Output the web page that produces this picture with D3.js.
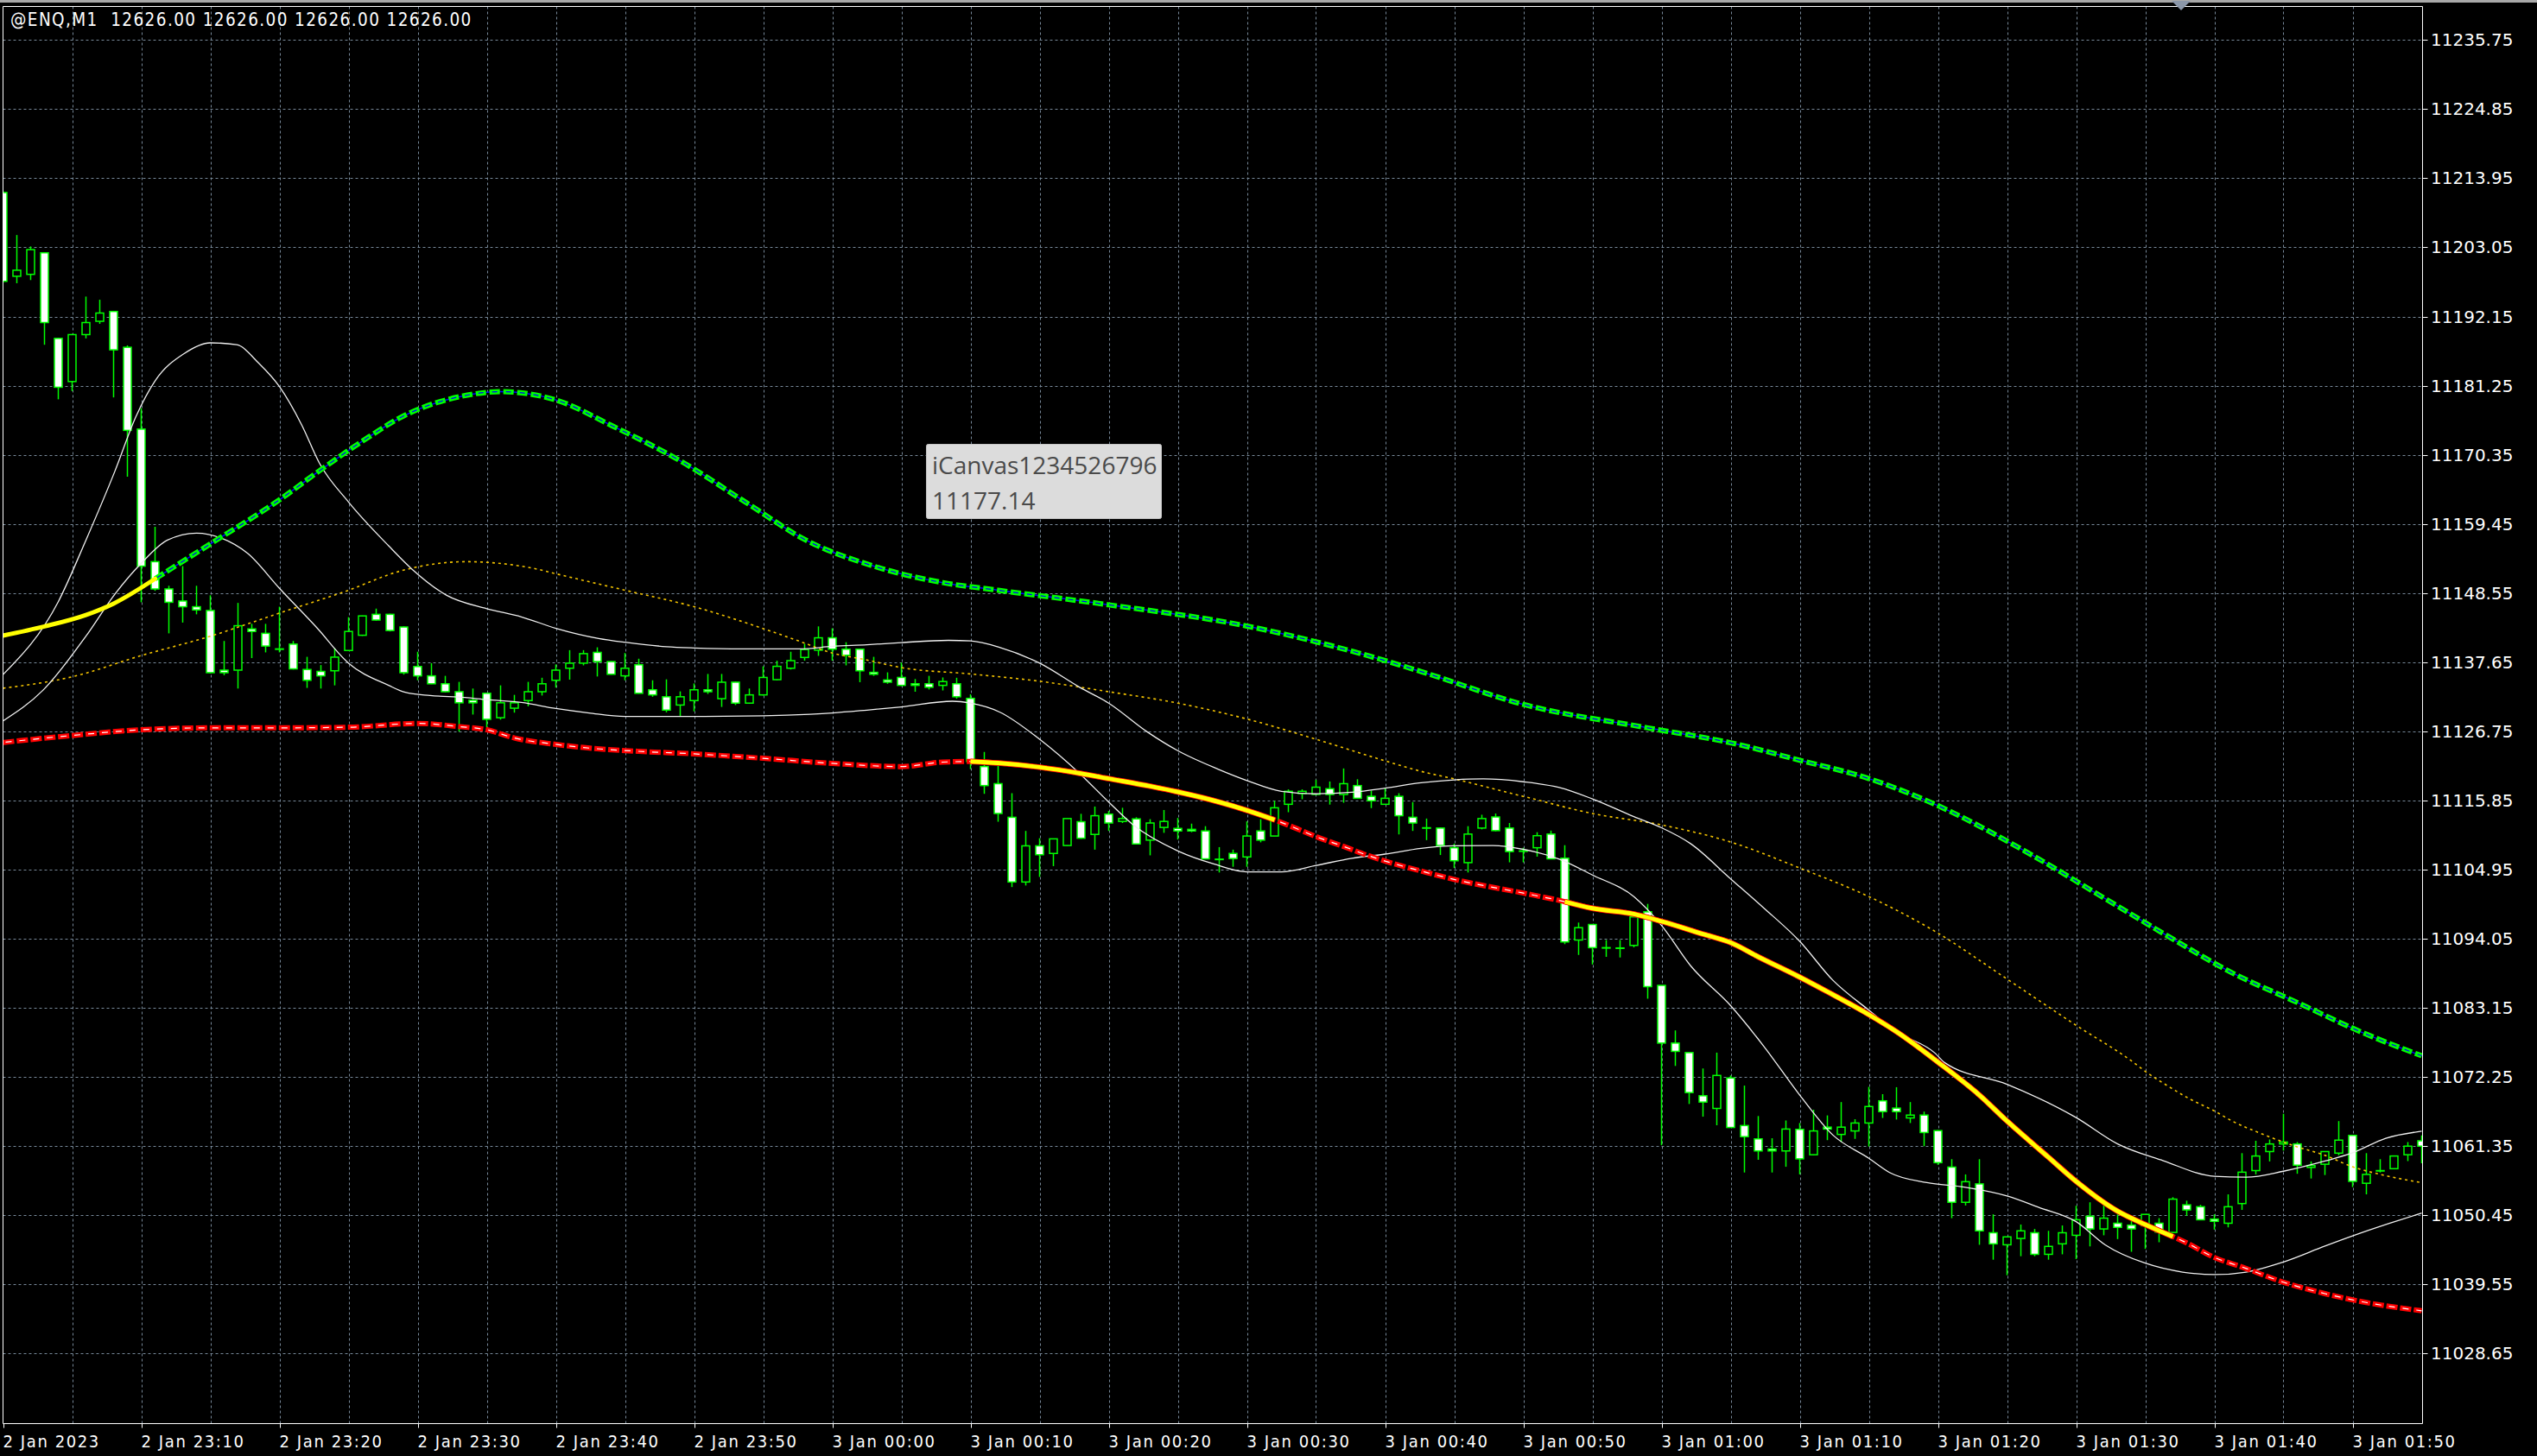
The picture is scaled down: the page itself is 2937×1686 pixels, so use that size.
<!DOCTYPE html>
<html><head><meta charset="utf-8">
<script src="https://cdn.jsdelivr.net/npm/d3@7"></script>
<style>
html,body{margin:0;padding:0;background:#000;overflow:hidden}
svg{display:block}
</style></head><body>
<svg id="chart" width="2937" height="1686"></svg>
<script>
// ---------------- DATA ----------------
const symbolHeader = "@ENQ,M1  12626.00 12626.00 12626.00 12626.00";
const tooltipLines = ["iCanvas1234526796", "11177.14"];
// candle index = minutes after 2 Jan 23:00
const timeTickIndex = [0,10,20,30,40,50,60,70,80,90,100,110,120,130,140,150,160,170];
const timeTickLabels = ["2 Jan 2023","2 Jan 23:10","2 Jan 23:20","2 Jan 23:30","2 Jan 23:40","2 Jan 23:50","3 Jan 00:00","3 Jan 00:10","3 Jan 00:20","3 Jan 00:30","3 Jan 00:40","3 Jan 00:50","3 Jan 01:00","3 Jan 01:10","3 Jan 01:20","3 Jan 01:30","3 Jan 01:40","3 Jan 01:50"];
const priceTicks = [11235.75,11224.85,11213.95,11203.05,11192.15,11181.25,11170.35,11159.45,11148.55,11137.65,11126.75,11115.85,11104.95,11094.05,11083.15,11072.25,11061.35,11050.45,11039.55,11028.65];

const opens = [11211.7,11198.5,11198.8,11202.2,11188.7,11181.9,11189.3,11191.4,11192.95,11187.3,
11174.4,11153.5,11149.2,11147.3,11146.4,11145.8,11136.4,11136.4,11142.9,11142.2,
11139.75,11140.5,11136.5,11136.2,11136.3,11139.5,11141.9,11145.2,11145.2,11143.2,
11136.97,11135.5,11134.25,11133.0,11131.65,11132.75,11128.9,11130.4,11131.6,11133.0,
11134.8,11136.7,11137.5,11139.2,11137.75,11135.5,11137.25,11133.3,11132.2,11130.9,
11131.6,11133.3,11131.9,11134.5,11131.2,11132.5,11134.9,11136.7,11138.4,11139.55,
11141.5,11139.7,11139.7,11136.05,11134.85,11135.25,11134.25,11134.25,11134.0,11134.25,
11131.95,11121.2,11118.5,11113.2,11103.0,11108.7,11107.5,11108.75,11112.5,11110.5,
11113.7,11112.55,11112.95,11109.6,11111.6,11111.45,11111.3,11111.05,11106.6,11107.5,
11106.95,11111.05,11110.25,11115.25,11116.95,11116.8,11117.7,11116.8,11118.2,11116.5,
11115.25,11116.5,11113.2,11111.55,11111.5,11108.4,11106.05,11111.5,11113.25,11111.5,
11107.9,11108.4,11110.55,11106.75,11093.85,11096.3,11092.65,11092.6,11093.0,11098.3,
11086.7,11077.6,11076.1,11069.3,11067.3,11072.1,11064.6,11062.5,11060.9,11060.6,
11064.0,11060.0,11064.35,11063.2,11063.75,11065.0,11068.5,11067.35,11065.8,11066.25,
11063.8,11058.05,11052.5,11055.4,11047.7,11045.8,11046.8,11047.7,11044.3,11045.95,
11047.3,11050.3,11048.3,11049.2,11048.9,11048.8,11049.2,11047.75,11052.1,11051.8,
11049.85,11049.2,11052.3,11057.5,11060.5,11061.7,11061.7,11058.0,11058.5,11060.25,
11063.05,11055.5,11057.5,11057.8,11060.0,11062.2];
const highs = [11211.9,11205.0,11203.2,11202.3,11188.8,11189.4,11195.3,11194.8,11193.0,11187.6,
11177.7,11159.0,11149.7,11152.8,11149.7,11148.2,11141.0,11147.0,11143.7,11143.7,
11146.4,11141.0,11138.5,11137.2,11139.85,11144.75,11145.0,11146.1,11145.3,11143.3,
11139.3,11137.5,11135.5,11134.55,11133.5,11132.8,11134.0,11132.5,11134.55,11135.2,
11137.3,11139.55,11139.55,11140.0,11137.8,11139.1,11138.2,11134.8,11134.95,11133.05,
11134.3,11135.8,11135.8,11134.6,11133.5,11137.0,11137.9,11139.3,11140.55,11143.3,
11143.0,11140.8,11139.8,11138.5,11136.05,11137.6,11135.0,11135.5,11135.25,11135.2,
11132.6,11123.5,11121.4,11117.0,11111.05,11109.9,11109.8,11113.0,11113.75,11114.9,
11114.2,11114.7,11113.2,11112.9,11114.35,11113.1,11112.2,11111.8,11108.5,11108.1,
11112.55,11112.9,11115.8,11117.6,11117.6,11119.1,11118.85,11120.9,11119.2,11117.4,
11117.75,11117.0,11115.6,11113.0,11111.6,11109.05,11111.8,11113.6,11113.8,11112.3,
11108.4,11110.85,11111.1,11108.8,11096.6,11096.3,11093.85,11093.85,11097.5,11099.55,
11086.7,11079.6,11076.1,11073.6,11076.1,11072.5,11070.9,11066.1,11062.6,11065.4,
11065.0,11067.1,11066.2,11068.3,11065.6,11070.7,11069.55,11070.65,11068.3,11066.8,
11063.9,11059.3,11056.9,11059.3,11050.6,11047.1,11049.0,11048.3,11048.0,11048.85,
11051.95,11052.5,11052.2,11050.6,11050.35,11050.6,11050.0,11053.3,11052.75,11052.1,
11050.6,11053.75,11060.25,11062.2,11062.4,11066.45,11062.0,11058.95,11060.5,11065.3,
11063.1,11060.25,11059.3,11059.8,11062.0,11063.05];
const lows = [11197.5,11197.4,11197.9,11187.7,11179.1,11180.4,11188.7,11191.0,11179.4,11166.9,
11147.1,11148.9,11142.2,11143.9,11145.2,11135.9,11135.6,11133.5,11138.3,11139.2,
11139.2,11136.5,11133.6,11133.5,11134.0,11139.4,11141.8,11144.2,11142.5,11135.7,
11134.8,11134.2,11132.9,11126.7,11129.4,11127.4,11128.6,11129.7,11130.7,11132.4,
11133.65,11134.9,11137.15,11135.4,11135.7,11134.8,11132.7,11132.2,11129.75,11129.1,
11129.9,11132.65,11130.6,11130.9,11131.1,11132.4,11134.8,11136.5,11137.9,11138.65,
11137.9,11137.15,11134.5,11135.5,11134.25,11133.9,11133.0,11133.35,11133.2,11131.9,
11120.8,11116.9,11112.5,11102.2,11102.45,11103.8,11105.5,11108.7,11109.8,11108.1,
11111.05,11112.3,11108.9,11107.2,11110.75,11109.7,11110.85,11106.6,11104.5,11105.4,
11105.4,11109.25,11110.25,11114.0,11116.05,11116.8,11115.2,11115.5,11116.1,11114.65,
11115.25,11110.5,11111.05,11109.6,11107.25,11105.2,11104.5,11111.3,11111.0,11106.1,
11106.1,11107.0,11106.6,11093.2,11091.5,11090.0,11091.2,11091.1,11092.7,11084.6,
11061.5,11074.0,11068.0,11066.0,11064.65,11064.3,11057.2,11059.2,11057.2,11058.1,
11056.9,11059.9,11062.3,11062.0,11062.5,11061.3,11065.8,11065.55,11065.0,11061.35,
11058.4,11050.0,11052.0,11045.8,11043.45,11041.0,11044.0,11044.0,11043.45,11044.3,
11043.55,11045.55,11047.3,11046.7,11044.7,11045.15,11046.2,11047.7,11050.35,11049.7,
11048.2,11048.55,11051.3,11056.9,11058.95,11060.65,11057.0,11056.25,11056.8,11059.9,
11054.9,11053.75,11057.2,11057.75,11059.0,11058.65];
const closes = [11197.7,11199.45,11202.7,11191.2,11181.0,11189.3,11191.2,11192.7,11186.9,11174.2,
11152.8,11149.2,11147.1,11146.4,11145.9,11136.0,11136.0,11143.4,11142.5,11140.2,
11139.7,11136.6,11134.8,11135.5,11138.45,11142.5,11144.95,11144.3,11142.65,11136.0,
11135.5,11134.25,11133.0,11131.25,11131.25,11128.65,11131.25,11131.25,11133.0,11134.25,
11136.4,11137.5,11139.0,11137.75,11135.75,11136.7,11132.75,11132.5,11130.1,11132.2,
11133.3,11133.0,11134.5,11131.2,11132.5,11135.25,11137.0,11137.9,11139.65,11141.5,
11139.7,11138.75,11136.3,11135.75,11134.5,11134.0,11134.0,11133.7,11134.6,11132.2,
11122.0,11118.2,11113.8,11103.0,11108.7,11107.3,11109.8,11113.0,11109.9,11113.45,
11112.3,11113.0,11109.0,11112.3,11112.55,11111.05,11111.05,11106.65,11106.6,11106.7,
11110.25,11109.6,11114.7,11117.3,11117.3,11117.95,11116.8,11118.5,11116.2,11115.8,
11116.2,11113.45,11112.3,11111.55,11108.75,11106.35,11110.55,11113.0,11111.1,11107.8,
11107.9,11110.3,11106.65,11093.55,11095.8,11092.65,11092.65,11092.6,11097.5,11086.5,
11077.6,11076.3,11069.8,11068.3,11072.5,11064.3,11062.85,11060.6,11060.6,11064.05,
11059.35,11063.75,11064.05,11064.35,11065.0,11067.6,11066.8,11066.8,11066.25,11063.5,
11058.75,11052.5,11055.75,11048.0,11045.95,11047.05,11048.0,11044.3,11045.55,11047.7,
11049.75,11048.3,11050.0,11048.55,11048.3,11050.6,11047.8,11053.0,11051.3,11049.75,
11049.5,11051.8,11057.25,11059.8,11061.7,11062.0,11058.35,11058.3,11060.5,11062.3,
11055.8,11056.9,11057.5,11059.8,11061.35,11061.35];

// indicator lines: [candle index, price]
const upperBand = [[11,11150.8],[15,11156.3],[20,11163.25],[23,11168],[26,11172.5],[29,11176.5],[33,11179.5],[36,11180.3],[40,11179.0],[44,11175.0],[49,11169.4],[54,11162.5],[58,11157.0],[63,11152.8],[68,11150.2],[72,11149.0],[80,11146.7],[90,11143.35],[100,11137.9],[103,11135.9],[110,11131.0],[119,11127.3],[125,11124.95],[130,11122.2],[135,11119.3],[139,11116.0],[147,11107.0],[152,11100.5],[157,11094.0],[161,11089.0],[166,11084.0],[171,11079.0],[175,11075.6]];
const lowerBand = [[0,11125.0],[5,11126.1],[10,11127.0],[15,11127.3],[20,11127.3],[25,11127.4],[30,11128.0],[33,11127.5],[35,11127.0],[37,11125.7],[40,11124.7],[42,11124.2],[46,11123.6],[50,11123.2],[55,11122.5],[60,11121.7],[65,11121.2],[68,11121.9],[70,11122.0],[72,11121.75],[75,11121.1],[78,11120.1],[80,11119.3],[83,11118.1],[85,11117.2],[88,11115.6],[90,11114.3],[92,11112.8],[93,11111.95],[95,11110.15],[97,11108.6],[99,11107.0],[100,11106.3],[103,11104.5],[105,11103.4],[110,11101.25],[113,11099.9],[115,11098.85],[118,11097.95],[120,11096.8],[123,11094.8],[125,11093.45],[127,11091.2],[130,11088.0],[132,11085.7],[135,11082.1],[137,11079.4],[140,11074.6],[143,11069.4],[145,11065.3],[148,11059.6],[150,11055.8],[153,11051.1],[155,11049.0],[157,11047.1],[158,11046.1],[160,11043.8],[162,11042.3],[165,11039.9],[168,11038.1],[171,11036.7],[175,11035.4]];
const signalLead = [[0,11141.85],[3,11143.3],[6,11145.1],[8,11146.9],[11,11150.8]];
const signalRanges = [[70,92],[113,157]];
const envUpper = [[0,11135.7],[4,11147.2],[6,11156.9],[8.1,11167.8],[9.6,11176.3],[11,11182.0],[13.1,11186.3],[15,11188.0],[16.9,11187.7],[18.5,11184.8],[20,11181.1],[21.6,11175.1],[22.9,11169.0],[25,11162.9],[27.9,11156.0],[29.6,11152.3],[32.1,11148.2],[35,11146.1],[37.5,11144.8],[40,11143.0],[43.1,11141.4],[45,11140.8],[48,11140.1],[50,11139.9],[53.5,11139.75],[57.7,11139.75],[60,11140.15],[62.5,11140.4],[65,11140.75],[68.4,11141.1],[70,11141.0],[72.1,11140.0],[75,11137.5],[77.9,11133.7],[80,11131.2],[82.8,11126.65],[85,11123.7],[87.9,11120.8],[90,11119.0],[92.5,11117.3],[95,11116.9],[97.6,11117.15],[100,11117.8],[102.6,11118.65],[105,11119.1],[107.1,11119.25],[110,11118.8],[112.6,11117.9],[115,11116.1],[118,11113.3],[120,11111.55],[122.1,11109.05],[125,11103.5],[127.4,11098.9],[130,11093.65],[132.4,11087.5],[135,11082.8],[137,11079.4],[139.8,11076.0],[140.5,11074.5],[145,11071.1],[150,11065.85],[153,11061.7],[156.3,11059.05],[160,11056.6],[162.3,11056.45],[165,11057.4],[168,11059.0],[170,11060.3],[172.4,11062.6],[175,11063.7]];
const envLower = [[0,11128.4],[2.9,11133.25],[6,11141.75],[8.1,11148.4],[10,11153.25],[11.9,11156.9],[14,11158.0],[15.8,11157.2],[17.7,11154.8],[20,11149.3],[22.7,11143.1],[25,11137.5],[27.9,11134.0],[29.1,11132.9],[30.9,11132.4],[33.4,11132.1],[35,11131.75],[37.5,11131.3],[40,11130.35],[42.4,11129.65],[45,11129.1],[50,11129.1],[55,11129.2],[58.4,11129.45],[60,11129.65],[62.5,11130.1],[65,11130.6],[68.7,11131.5],[70,11131.2],[72.1,11129.8],[75,11125.5],[77.9,11120.1],[80,11115.6],[81.8,11111.95],[85,11107.9],[87.6,11105.85],[90,11104.6],[92.5,11104.6],[95,11105.6],[97.6,11106.75],[100,11107.4],[102.6,11108.3],[105,11108.7],[107.8,11108.75],[110,11108.15],[112.6,11106.6],[115,11104.1],[118,11100.7],[120,11096.15],[122.1,11089.8],[125,11083.5],[127.4,11077.1],[130,11069.4],[132.4,11063.1],[135,11059.45],[136.5,11057.2],[139.2,11055.6],[141.9,11054.9],[145,11053.5],[147.3,11051.7],[150,11049.45],[152.1,11045.8],[155,11042.9],[157.7,11041.5],[160,11041.1],[162.3,11041.5],[165,11043.1],[168,11045.6],[170,11047.2],[172.7,11049.2],[175,11050.8]];
const slowMA = [[0,11133.55],[5,11135.35],[10,11138.7],[15,11141.75],[20,11145.4],[25,11149.0],[28.7,11152.0],[33.5,11153.5],[38.7,11152.3],[40,11151.6],[45,11149.0],[50,11146.4],[55,11142.95],[57.7,11140.9],[60,11139.1],[62.5,11138.0],[65,11136.8],[70,11135.8],[75,11134.65],[80,11133.0],[85,11131.2],[90,11128.7],[95,11125.5],[100,11122.1],[102.5,11120.5],[105,11119.25],[110,11116.5],[115,11113.8],[120,11112.0],[125,11109.3],[130,11105.2],[135,11100.7],[139.8,11095.2],[145,11087.7],[150,11080.4],[154,11074.8],[155.1,11073.0],[156.7,11070.75],[158.3,11068.7],[160,11066.9],[161.3,11065.3],[163.2,11063.5],[165.7,11061.45],[168,11059.9],[170,11058.1],[172.4,11056.7],[175,11055.6]];

// ---------------- DRAW ----------------
const W = 2937, H = 1686;
const frame = {left: 3.5, right: 2804.5, top: 7.5, bottom: 1648.5};
const svg = d3.select("#chart");
const x = d3.scaleLinear().domain([0, 175]).range([3.5, 2803.5]);
const y = d3.scaleLinear().domain([11028.65, 11235.75]).range([1567.4, 46.3]);
const gridColor = "#778899";
const condFont = "'DejaVu Sans Condensed','DejaVu Sans',sans-serif";

svg.append("rect").attr("width", W).attr("height", H).attr("fill", "#000");
svg.append("rect").attr("x", 0).attr("y", 0).attr("width", W).attr("height", 3).attr("fill", "#a8a8a8");

const defs = svg.append("defs");
defs.append("clipPath").attr("id", "plotclip").append("rect")
  .attr("x", frame.left + 0.5).attr("y", frame.top + 0.5)
  .attr("width", frame.right - frame.left - 1).attr("height", frame.bottom - frame.top - 1);

// grid
const grid = svg.append("g");
const vGrid = d3.range(5, 175, 5);
grid.selectAll("line.v").data(vGrid).join("line")
  .attr("x1", d => Math.round(x(d)) + 0.5).attr("x2", d => Math.round(x(d)) + 0.5)
  .attr("y1", frame.top).attr("y2", frame.bottom)
  .attr("stroke", gridColor).attr("stroke-width", 1).attr("stroke-dasharray", "3,3");
grid.selectAll("line.h").data(priceTicks).join("line")
  .attr("x1", frame.left).attr("x2", frame.right)
  .attr("y1", d => Math.round(y(d)) + 0.5).attr("y2", d => Math.round(y(d)) + 0.5)
  .attr("stroke", gridColor).attr("stroke-width", 1).attr("stroke-dasharray", "3,3");

const plot = svg.append("g").attr("clip-path", "url(#plotclip)");

// candles
const candles = d3.range(opens.length).map(i => ({i, o: opens[i], h: highs[i], l: lows[i], c: closes[i]}));
const cg = plot.append("g");
cg.selectAll("line.wick").data(candles).join("line")
  .attr("x1", d => x(d.i)).attr("x2", d => x(d.i))
  .attr("y1", d => y(d.h)).attr("y2", d => y(d.l))
  .attr("stroke", "#00ff00").attr("stroke-width", 1.5);
cg.selectAll("rect.body").data(candles).join("rect")
  .attr("x", d => x(d.i) - 4.5).attr("width", 9)
  .attr("y", d => y(Math.max(d.o, d.c)))
  .attr("height", d => Math.max(0.5, Math.abs(y(d.o) - y(d.c))))
  .attr("fill", d => d.c < d.o ? "#ffffff" : "#000000")
  .attr("stroke", "#00ff00").attr("stroke-width", 1.5);

// indicator lines
const lineGen = d3.line().x(d => x(d[0])).y(d => y(d[1])).curve(d3.curveMonotoneX);
const lg = plot.append("g").attr("fill", "none");
lg.append("path").attr("d", lineGen(slowMA)).attr("stroke", "#f2c200").attr("stroke-width", 1.6).attr("stroke-dasharray", "3,4");
lg.append("path").attr("d", lineGen(envUpper)).attr("stroke", "#f0f0f0").attr("stroke-width", 1.3);
lg.append("path").attr("d", lineGen(envLower)).attr("stroke", "#f0f0f0").attr("stroke-width", 1.3);
// lower (red) band
lg.append("path").attr("d", lineGen(lowerBand)).attr("stroke", "#ff0000").attr("stroke-width", 6).attr("stroke-dasharray", "13,3");
lg.append("path").attr("d", lineGen(lowerBand)).attr("stroke", "#ffffff").attr("stroke-width", 1.2).attr("stroke-dasharray", "7,9").attr("stroke-dashoffset", -3);
// upper (green) band
lg.append("path").attr("d", lineGen(upperBand)).attr("stroke", "#0000ff").attr("stroke-width", 1.5);
lg.append("path").attr("d", lineGen(upperBand)).attr("stroke", "#00ff00").attr("stroke-width", 6).attr("stroke-dasharray", "12,4");
lg.append("path").attr("d", lineGen(upperBand)).attr("stroke", "#0000ff").attr("stroke-width", 1.2).attr("stroke-dasharray", "6,10").attr("stroke-dashoffset", -3);
// yellow signal segments
lg.append("path").attr("d", lineGen(signalLead)).attr("stroke", "#ffff00").attr("stroke-width", 5).attr("stroke-linecap", "round");
signalRanges.forEach(([a, b]) => {
  const seg = lowerBand.filter(p => p[0] >= a && p[0] <= b);
  lg.append("path").attr("d", lineGen(seg)).attr("stroke", "#ff0000").attr("stroke-width", 6.5);
  lg.append("path").attr("d", lineGen(seg)).attr("stroke", "#ffff00").attr("stroke-width", 5);
});

// frame
const fr = svg.append("g").attr("stroke", "#ffffff").attr("stroke-width", 1).attr("fill", "none");
fr.append("line").attr("x1", frame.left).attr("x2", frame.left).attr("y1", frame.top).attr("y2", frame.bottom);
fr.append("line").attr("x1", frame.right).attr("x2", frame.right).attr("y1", frame.top).attr("y2", frame.bottom);
fr.append("line").attr("x1", frame.left).attr("x2", frame.right).attr("y1", frame.top).attr("y2", frame.top);
fr.append("line").attr("x1", frame.left).attr("x2", frame.right).attr("y1", frame.bottom).attr("y2", frame.bottom);

// price axis
const pa = svg.append("g");
pa.selectAll("line").data(priceTicks).join("line")
  .attr("x1", frame.right).attr("x2", frame.right + 6)
  .attr("y1", d => Math.round(y(d)) + 0.5).attr("y2", d => Math.round(y(d)) + 0.5)
  .attr("stroke", "#ffffff");
pa.selectAll("text").data(priceTicks).join("text")
  .attr("x", 2814).attr("y", d => y(d) + 7)
  .attr("fill", "#ffffff").attr("font-family", "'DejaVu Sans',sans-serif")
  .attr("font-size", 20).attr("letter-spacing", 0)
  .text(d => d.toFixed(2));

// time axis
const ta = svg.append("g");
ta.selectAll("line").data(timeTickIndex).join("line")
  .attr("x1", d => Math.round(x(d)) + 0.5).attr("x2", d => Math.round(x(d)) + 0.5)
  .attr("y1", frame.bottom).attr("y2", frame.bottom + 5)
  .attr("stroke", "#ffffff");
ta.selectAll("text").data(timeTickIndex).join("text")
  .attr("x", d => x(d)).attr("y", 1676)
  .attr("fill", "#ffffff").attr("font-family", condFont).attr("font-stretch", "condensed")
  .attr("font-size", 20).attr("letter-spacing", 1.6)
  .text((d, i) => timeTickLabels[i]);

// header
svg.append("text").attr("x", 12).attr("y", 30).attr("fill", "#ffffff")
  .attr("font-family", condFont).attr("font-stretch", "condensed")
  .attr("font-size", 20.5).attr("letter-spacing", 1.4).attr("xml:space", "preserve")
  .style("white-space", "pre").text(symbolHeader);

// chart shift marker
svg.append("path").attr("d", "M2514,1 L2536,1 L2525,12 Z").attr("fill", "#8a96a8");

// tooltip
const tip = svg.append("g");
tip.append("rect").attr("x", 1072.5).attr("y", 514.5).attr("width", 272).attr("height", 86)
  .attr("rx", 2).attr("fill", "#dcdcdc").attr("stroke", "#c4c4c4");
tip.selectAll("text").data(tooltipLines).join("text")
  .attr("x", 1079).attr("y", (d, i) => 549 + i * 41)
  .attr("fill", "#4a4a4a").attr("font-family", "'Open Sans','Noto Sans',sans-serif")
  .attr("font-size", 28).text(d => d);
</script></body></html>
